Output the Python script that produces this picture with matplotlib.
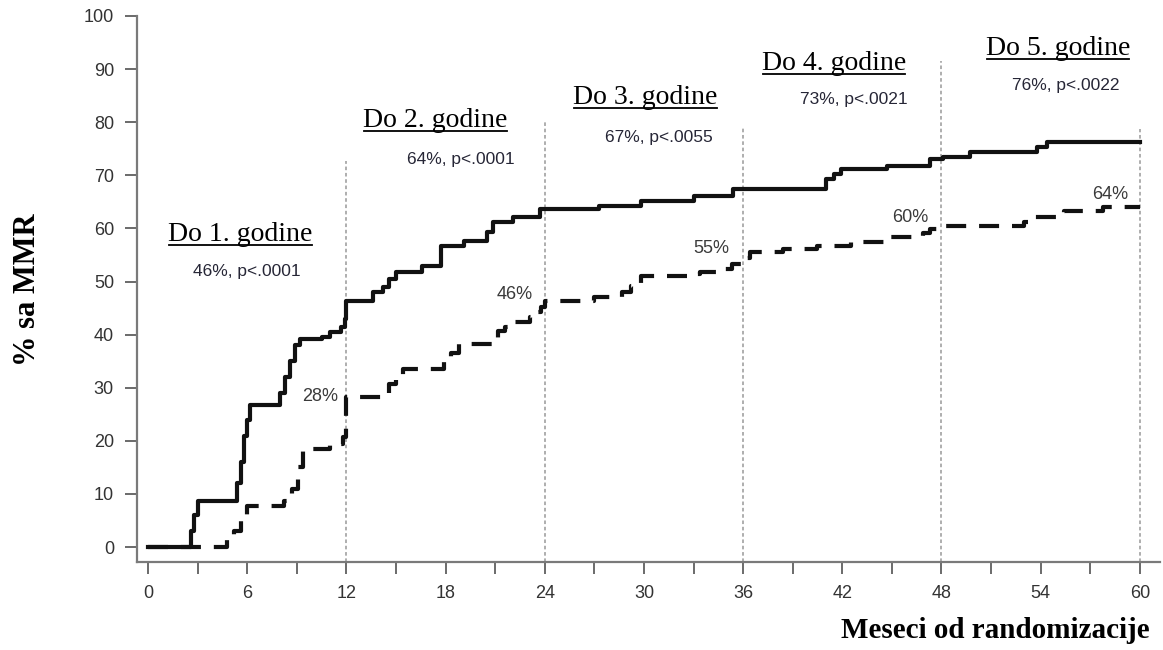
import matplotlib.pyplot as plt
from matplotlib.lines import Line2D

# ---- data -----------------------------------------------------
# solid curve: months, cumulative % with MMR
solid_t = [0, 2.6, 2.8, 3.0, 5.4, 5.6, 5.8, 6.0, 6.2, 8.0, 8.3, 8.6, 8.9, 9.2,
           10.5, 11.0, 11.7, 11.9, 12.0, 13.6, 14.2, 14.6, 15.0, 16.6, 17.7,
           19.1, 20.5, 20.9, 22.1, 23.7, 27.3, 29.8, 33.0, 35.4, 41.0, 41.5,
           41.9, 44.7, 47.3, 48.1, 49.7, 53.8, 54.4, 60]
solid_v = [0, 3, 6, 8.7, 12, 16, 21, 24, 26.8, 29, 32, 35, 38, 39.2,
           39.6, 40.5, 41.5, 43, 46.3, 48, 49, 50.5, 51.8, 53, 56.7,
           57.6, 59.3, 61.2, 62.1, 63.6, 64.2, 65.2, 66.1, 67.4, 69.3, 70.3,
           71.2, 71.8, 73.0, 73.4, 74.4, 75.3, 76.2, 76.2]

# dashed curve
dash_t = [0, 4.8, 5.2, 5.6, 6.0, 8.2, 8.7, 9.1, 9.4, 11.0, 11.8, 12.0,
          14.6, 15.0, 15.4, 17.9, 18.3, 18.8, 21.2, 21.6, 22.0, 23.1, 23.5,
          23.8, 24.0, 27.0, 28.7, 29.2, 29.8, 32.8, 33.4, 34.7, 35.3, 36.0,
          36.4, 38.4, 40.5, 42.5, 44.9, 46.9, 47.3, 48.0, 53.0, 53.6, 55.4,
          57.8, 60]
dash_v = [0, 1.5, 3, 5, 7.7, 8.7, 11, 15, 18.5, 19.4, 20.7, 28.2,
          30.7, 31.6, 33.5, 35, 36.5, 38.2, 40.7, 41.5, 42.4, 43.3, 44.2,
          45.2, 46.3, 47.1, 48.0, 49.2, 51.0, 51.5, 51.8, 52.4, 53.3, 54.5,
          55.5, 56.1, 56.7, 57.4, 58.4, 59.2, 59.9, 60.5, 61.2, 62.1, 63.3,
          64.0, 64.0]

periods = [12, 24, 36, 48, 60]
period_titles = ["Do 1. godine", "Do 2. godine", "Do 3. godine",
                 "Do 4. godine", "Do 5. godine"]
period_stats = ["46%, p<.0001", "64%, p<.0001", "67%, p<.0055",
                "73%, p<.0021", "76%, p<.0022"]
dash_labels = ["28%", "46%", "55%", "60%", "64%"]

# ---- layout (positions in data units) ------------------------
period_tops = [72.7, 80.2, 79.3, 91.5, 78.7]
title_pos = [(5.6, 57.6), (17.4, 79.1), (30.1, 83.4), (41.5, 89.8), (55.05, 92.7)]
stats_pos = [(6.0, 51.8), (18.9, 72.9), (30.9, 77.2), (42.7, 84.2), (55.5, 87.0)]
dlabel_pos = [(10.4, 28.4), (22.2, 47.5), (34.1, 56.3), (46.1, 62.0), (58.2, 66.3)]

sans = "Liberation Sans"
serif = "Liberation Serif"

W, H = 1163, 650
fig = plt.figure(figsize=(W / 100, H / 100), dpi=100)
ax = fig.add_axes([137 / W, 1 - 562 / H, (1160 - 137) / W, (562 - 16) / H])
ax.set_xlim(-0.665, 61.22)
ax.set_ylim(-2.82, 100)

# period dividers
ax.vlines(periods, -2.82, period_tops, colors="#a8a8a8", lw=1.3,
          linestyles=(0, (2, 1.5)), zorder=1)

# curves
ax.step(solid_t, solid_v, where="post", color="#111111", lw=3, zorder=3)
ax.step(dash_t, dash_v, where="post", color="#111111", lw=3,
        dashes=(4.8, 3.1), zorder=3)

# axes styling
for s in ["top", "right"]:
    ax.spines[s].set_visible(False)
for s in ["left", "bottom"]:
    ax.spines[s].set_color("#7a7a7a")
    ax.spines[s].set_linewidth(1.6)

xt = list(range(0, 61, 3))
ax.set_xticks(xt)
ax.set_xticklabels([str(t) if t % 6 == 0 else "" for t in xt])
ax.set_yticks(range(0, 101, 10))
ax.tick_params(direction="out", length=8.6, width=1.4, color="#6a6a6a",
               labelsize=13, labelcolor="#333333", pad=8)
for lab in ax.get_xticklabels() + ax.get_yticklabels():
    lab.set_family(sans)

# period titles and stats
titles = []
for txt, (x, y) in zip(period_titles, title_pos):
    t = ax.text(x, y, txt, ha="center", va="baseline", fontsize=20,
                family=serif, color="black")
    titles.append(t)
for txt, (x, y) in zip(period_stats, stats_pos):
    ax.text(x, y, txt, ha="center", va="center", fontsize=12.5,
            family=sans, color="#262636")
for txt, (x, y) in zip(dash_labels, dlabel_pos):
    ax.text(x, y, txt, ha="center", va="center", fontsize=13,
            family=sans, color="#3a3a3a")

# underline the period titles
fig.canvas.draw()
inv = fig.transFigure.inverted()
for t, (x, y) in zip(titles, title_pos):
    bb = t.get_window_extent()
    yb = ax.transData.transform((x, y))[1] - 4
    p0 = inv.transform((bb.x0 + 1, yb))
    p1 = inv.transform((bb.x1 - 1, yb))
    fig.add_artist(Line2D([p0[0], p1[0]], [p0[1], p1[1]],
                          transform=fig.transFigure, color="black", lw=1.3))

# axis labels
fig.text(28 / W, 1 - 290 / H, "% sa MMR", rotation=90, ha="center",
         va="center", fontsize=22, fontweight="bold", family=serif)
fig.text(1150 / W, 1 - 631 / H, "Meseci od randomizacije", ha="right",
         va="center", fontsize=21, fontweight="bold", family=serif)

plt.savefig("out.png", dpi=100)
